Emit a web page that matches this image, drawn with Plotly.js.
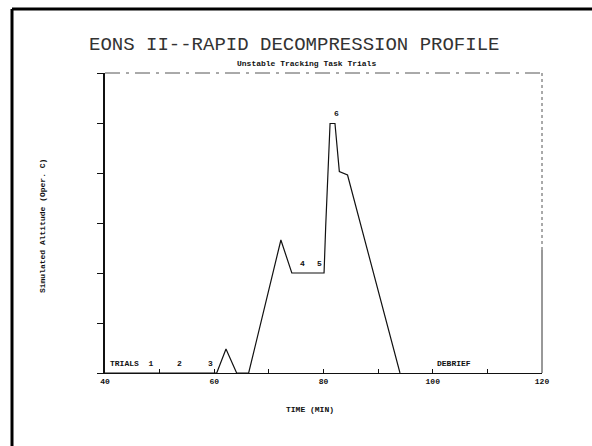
<!DOCTYPE html>
<html>
<head>
<meta charset="utf-8">
<script src="https://cdn.plot.ly/plotly-3.0.1.min.js"></script>
<style>html,body{margin:0;padding:0;background:#fff;}#chart{width:592px;height:446px;}</style>
</head>
<body>
<div id="chart"></div>
<script>
// Time (min) and simulated altitude (thousand ft) read from the profile
const timeMin = [40, 60.45, 62.15, 64.1, 66.3, 72.2, 74.2, 80.1, 80.4, 80.9, 81.2, 82.1, 82.9, 84.4, 94.0];
const altitude = [0, 0, 4.8, 0, 0, 26.6, 20, 20, 29.3, 40.3, 49.9, 49.9, 40.3, 39.6, 0];

const xTickVals = [40, 50, 60, 70, 80, 90, 100, 110, 120];
const xTickText = ['40', '', '60', '', '80', '', '100', '', '120'];
const yTickVals = [0, 10, 20, 30, 40, 50, 60];

const labelText = ['TRIALS  1', '2', '3', '4', '5', '6', 'DEBRIEF'];
const labelX = [40.5, 53.7, 59.3, 76.2, 79.2, 82.3, 103.9];
const labelY = [2, 2, 2, 22, 22, 52, 2];

const mono = 'Liberation Mono, DejaVu Sans Mono, monospace';

const trace = {
  x: timeMin, y: altitude, type: 'scatter', mode: 'lines',
  line: {color: '#111', width: 1.2}, hoverinfo: 'skip'
};

const annotations = labelText.map((t, i) => ({
  x: labelX[i], y: labelY[i], xref: 'x', yref: 'y', text: t,
  showarrow: false, xanchor: i === 0 ? 'left' : 'center', yanchor: 'middle',
  font: {family: mono, size: 8, color: '#111', weight: 'bold'}
}));

annotations.push({
  xref: 'paper', yref: 'paper', x: 0.46, y: 1.03, text: 'Unstable Tracking Task Trials',
  showarrow: false, xanchor: 'center', yanchor: 'middle',
  font: {family: mono, size: 8, color: '#111', weight: 'bold'}
});
annotations.push({
  xref: 'paper', yref: 'paper', x: 0.469, y: -0.123, text: 'TIME (MIN)',
  showarrow: false, xanchor: 'center', yanchor: 'middle',
  font: {family: mono, size: 8, color: '#111', weight: 'bold'}
});
annotations.push({
  xref: 'paper', yref: 'paper', x: -0.144, y: 0.49, text: 'Simulated Altitude (Oper. C)',
  showarrow: false, xanchor: 'center', yanchor: 'middle', textangle: -90,
  font: {family: mono, size: 8, color: '#111', weight: 'bold'}
});

const layout = {
  width: 592, height: 446,
  margin: {l: 105, r: 50, t: 73, b: 73},
  paper_bgcolor: '#fff', plot_bgcolor: '#fff',
  showlegend: false,
  title: {
    text: 'EONS II--RAPID DECOMPRESSION PROFILE',
    x: 0.497, xref: 'container', xanchor: 'center',
    y: 0.9036, yref: 'container', yanchor: 'middle',
    font: {family: mono, size: 19, color: '#333'}
  },
  xaxis: {
    range: [40, 120], tickvals: xTickVals, ticktext: xTickText,
    ticks: 'inside', ticklen: 4, tickcolor: '#111', tickwidth: 1,
    showline: true, linecolor: '#111', linewidth: 1.2,
    showgrid: false, zeroline: false,
    tickfont: {family: mono, size: 8, color: '#111', weight: 'bold'}
  },
  yaxis: {
    range: [0, 60], tickvals: yTickVals, showticklabels: false,
    ticks: 'outside', ticklen: 6, tickcolor: '#111', tickwidth: 1,
    showline: true, linecolor: '#111', linewidth: 2,
    showgrid: false, zeroline: false
  },
  shapes: [
    {type: 'line', xref: 'paper', yref: 'paper', x0: 0, x1: 1, y0: 1, y1: 1,
     line: {color: '#555', width: 1, dash: 'longdashdot'}},
    {type: 'line', xref: 'paper', yref: 'paper', x0: 1, x1: 1, y0: 0, y1: 0.41,
     line: {color: '#333', width: 1}},
    {type: 'line', xref: 'paper', yref: 'paper', x0: 1, x1: 1, y0: 0.41, y1: 1,
     line: {color: '#555', width: 1, dash: 'dot'}},
    {type: 'line', xref: 'paper', yref: 'paper', x0: -0.2128, x1: -0.2128, y0: -0.3, y1: 1.2133,
     line: {color: '#000', width: 3}},
    {type: 'line', xref: 'paper', yref: 'paper', x0: -0.2128, x1: 1.2, y0: 1.2133, y1: 1.2133,
     line: {color: '#000', width: 3}}
  ],
  annotations: annotations
};

Plotly.newPlot('chart', [trace], layout, {displayModeBar: false, staticPlot: true});
</script>
</body>
</html>
